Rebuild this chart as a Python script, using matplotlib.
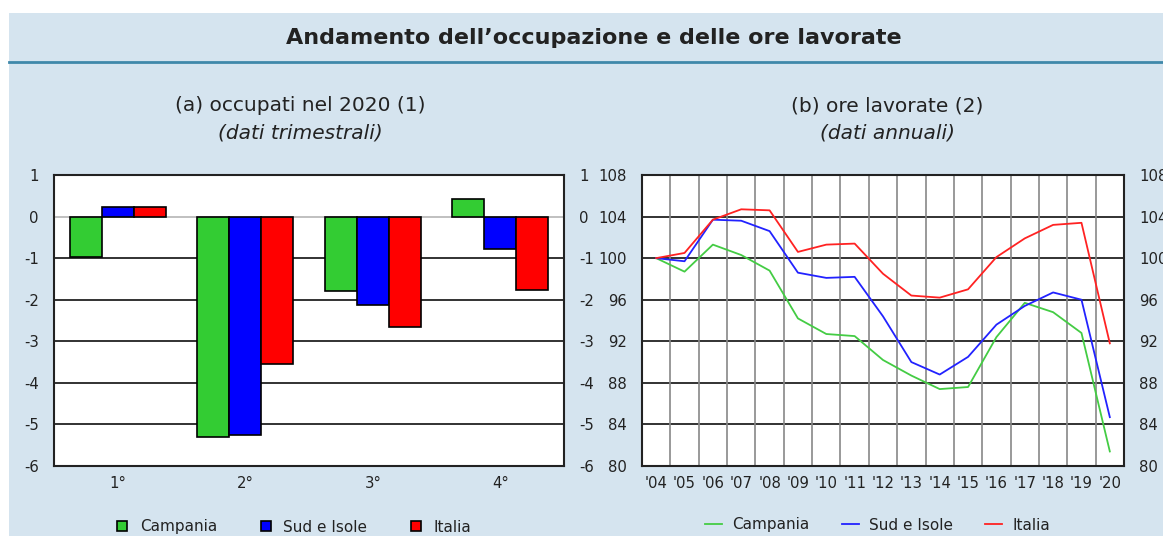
import matplotlib
matplotlib.use('Agg')
import matplotlib.pyplot as plt
from matplotlib.lines import Line2D
from matplotlib.patches import Rectangle
import numpy as np

# (a) occupati nel 2020, variazioni trimestrali
quarters = ['1°', '2°', '3°', '4°']
occ_campania = [-0.97, -5.30, -1.79, 0.42]
occ_sud = [0.23, -5.26, -2.13, -0.78]
occ_italia = [0.23, -3.54, -2.65, -1.76]

# (b) ore lavorate, indice 2004=100
years = list(range(2004, 2021))
year_labels = ["'04", "'05", "'06", "'07", "'08", "'09", "'10", "'11", "'12",
               "'13", "'14", "'15", "'16", "'17", "'18", "'19", "'20"]
ore_campania = [100.0, 98.7, 101.3, 100.3, 98.8, 94.2, 92.7, 92.5, 90.2,
                88.7, 87.4, 87.6, 92.4, 95.7, 94.8, 92.8, 81.4]
ore_sud = [100.0, 99.7, 103.7, 103.6, 102.6, 98.6, 98.1, 98.2, 94.4,
           90.0, 88.8, 90.5, 93.6, 95.4, 96.7, 96.0, 84.7]
ore_italia = [100.0, 100.5, 103.7, 104.7, 104.6, 100.6, 101.3, 101.4, 98.5,
              96.4, 96.2, 97.0, 100.1, 101.9, 103.2, 103.4, 91.8]

labels = ['Campania', 'Sud e Isole', 'Italia']
bar_colors = ['#33cc33', '#0000ff', '#ff0000']
line_colors = ['#44cc44', '#2222ff', '#ff2222']

W, H = 1163, 536
BG = '#d5e4ef'
TXT = '#222222'
plt.rcParams['font.family'] = ['DejaVu Sans']


def fx(px):
    return px / W


def fy(py):
    return 1 - py / H


fig = plt.figure(figsize=(W / 100, H / 100), dpi=100)
fig.patch.set_facecolor('white')
fig.add_artist(Rectangle((fx(9), 0), 1 - fx(9), fy(13), transform=fig.transFigure,
                         facecolor=BG, edgecolor='none', zorder=0))
fig.add_artist(Line2D([fx(9), 1], [fy(62), fy(62)], transform=fig.transFigure,
                      color='#3f88aa', lw=2))

fig.text(fx(594), fy(44), 'Andamento dell\u2019occupazione e delle ore lavorate',
         ha='center', va='baseline', fontsize=16, weight='bold', color=TXT)

fig.text(fx(300), fy(111), '(a) occupati nel 2020 (1)', ha='center',
         va='baseline', fontsize=14.5, color=TXT)
fig.text(fx(300), fy(139), '(dati trimestrali)', ha='center', va='baseline',
         fontsize=14.5, style='italic', color=TXT)
fig.text(fx(887), fy(111), '(b) ore lavorate (2)', ha='center',
         va='baseline', fontsize=14.5, color=TXT)
fig.text(fx(887), fy(139), '(dati annuali)', ha='center', va='baseline',
         fontsize=14.5, style='italic', color=TXT)

# ---- left panel: bars
ax1 = fig.add_axes([fx(54), fy(466), fx(564) - fx(54), fy(175) - fy(466)])
x = np.arange(len(quarters))
width = 0.25
for i, (vals, col) in enumerate(zip([occ_campania, occ_sud, occ_italia], bar_colors)):
    ax1.bar(x + (i - 1) * width, vals, width, color=col, edgecolor='black',
            linewidth=1.2, zorder=3)
for v in range(-5, 0):
    ax1.axhline(v, color='#222222', lw=1.3, zorder=1)
ax1.axhline(0, color='#bbbbbb', lw=1.3, zorder=1)
ax1.set_xlim(-0.5, 3.5)
ax1.set_ylim(-6, 1)
ax1.set_yticks(range(-6, 2))
ax1.set_yticklabels([str(v) for v in range(-6, 2)])
ax1.set_xticks(x)
ax1.set_xticklabels(quarters)
ax1.tick_params(axis='y', length=0, pad=11, labelleft=True, labelright=True,
                labelsize=10.7, labelcolor=TXT)
ax1.tick_params(axis='x', length=0, pad=7, labelsize=10.7, labelcolor=TXT)
for s in ax1.spines.values():
    s.set_linewidth(1.5)
    s.set_color('#222222')

# ---- right panel: lines
ax2 = fig.add_axes([fx(642), fy(466), fx(1124) - fx(642), fy(175) - fy(466)])
for v in range(84, 108, 4):
    ax2.axhline(v, color='#222222', lw=1.3, zorder=1)
for yr in years[:-1]:
    ax2.axvline(yr + 0.5, color='#888888', lw=1.2, zorder=1)
for vals, col in zip([ore_campania, ore_sud, ore_italia], line_colors):
    ax2.plot(years, vals, color=col, lw=1.3, zorder=3)
ax2.set_xlim(2003.5, 2020.5)
ax2.set_ylim(80, 108)
ax2.set_yticks(range(80, 109, 4))
ax2.set_xticks(years)
ax2.set_xticklabels(year_labels)
ax2.tick_params(axis='y', length=0, pad=11, labelleft=True, labelright=True,
                labelsize=10.7, labelcolor=TXT)
ax2.tick_params(axis='x', length=0, pad=7, labelsize=10.7, labelcolor=TXT)
for s in ax2.spines.values():
    s.set_linewidth(1.5)
    s.set_color('#222222')

# ---- legends
bar_handles = [Line2D([], [], marker='s', linestyle='none', markersize=7,
                      markerfacecolor=c, markeredgecolor='black',
                      markeredgewidth=1.2) for c in bar_colors]
leg1 = fig.legend(bar_handles, labels, loc='center left',
                  bbox_to_anchor=(fx(116), fy(527)), ncol=3, frameon=False,
                  fontsize=11, handlelength=0.8, handletextpad=0.75,
                  columnspacing=2.8, borderpad=0, borderaxespad=0,
                  labelcolor=TXT)

line_handles = [Line2D([], [], color=c, lw=1.3) for c in line_colors]
leg2 = fig.legend(line_handles, labels, loc='center left',
                  bbox_to_anchor=(fx(705), fy(525)), ncol=3, frameon=False,
                  fontsize=11, handlelength=1.1, handletextpad=0.7,
                  columnspacing=2.1, borderpad=0, borderaxespad=0,
                  labelcolor=TXT)

fig.savefig('out.png', dpi=100, facecolor=fig.get_facecolor())
